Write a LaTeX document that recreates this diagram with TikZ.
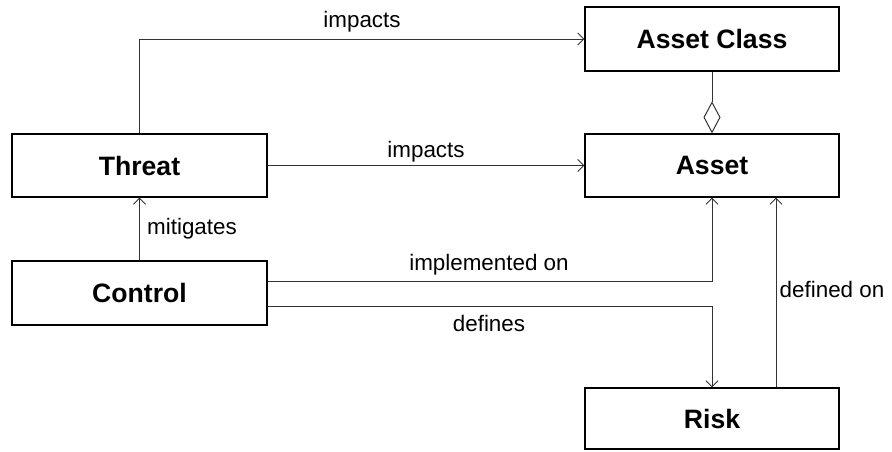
\documentclass[tikz,border=0pt]{standalone}
\usepackage{fontspec}
\setmainfont{Liberation Sans}
\usetikzlibrary{arrows.meta,calc}
\begin{document}
\begin{tikzpicture}[x=1pt,y=-1pt,
  box/.style={draw=black,line width=1.3pt,minimum width=254pt,inner sep=0pt,
    font=\fontsize{26.6}{30}\selectfont\bfseries},
  link/.style={draw=black!80,line width=0.9pt},
  arr/.style={link,-{Straight Barb[length=6pt,width=12pt,line width=0.9pt]}},
  lbl/.style={font=\fontsize{22.4}{26}\selectfont,inner sep=0pt}]
\useasboundingbox (0,0) rectangle (892,451);

% classes
\node[box,minimum height=64pt] (assetclass) at (712,39) {Asset Class};
\node[box,minimum height=63pt] (asset) at (712,165.5) {Asset};
\node[box,minimum height=61pt] (risk) at (712,418.5) {Risk};
\node[box,minimum width=255pt,minimum height=63pt] (threat) at (139.5,165.5) {Threat};
\node[box,minimum width=255pt,minimum height=64pt] (control) at (139.5,293) {Control};

% anchor points for the side-by-side connectors
\coordinate (implout) at ($(control.east)+(0,-12)$);
\coordinate (defout) at ($(control.east)+(0,13)$);
\coordinate (riskup) at ($(risk.north)+(64,0)$);
\coordinate (assetdown) at ($(asset.south)+(64,0)$);

% aggregation
\draw[link,-{Diamond[open,length=32pt,width=17pt,line width=1pt]}] (assetclass) -- (asset);

% associations
\draw[arr] (threat.north) |- (assetclass.west);
\draw[arr] (threat.east) -- (asset.west);
\draw[arr] (control.north) -- (threat.south);
\draw[arr] (implout) -| (asset.south);
\draw[arr] (defout) -| (risk.north);
\draw[arr] (riskup) -- (assetdown);

% labels
\node[lbl] (l1) at (362,22) {impacts};
\node[lbl] (l2) at (426,152) {impacts};
\node[lbl] (l3) at (192,229) {mitigates};
\node[lbl] (l4) at (489,265) {implemented on};
\node[lbl] (l5) at (489,323) {defines};
\node[lbl] (l6) at (832,289) {defined on};
\end{tikzpicture}
\end{document}
